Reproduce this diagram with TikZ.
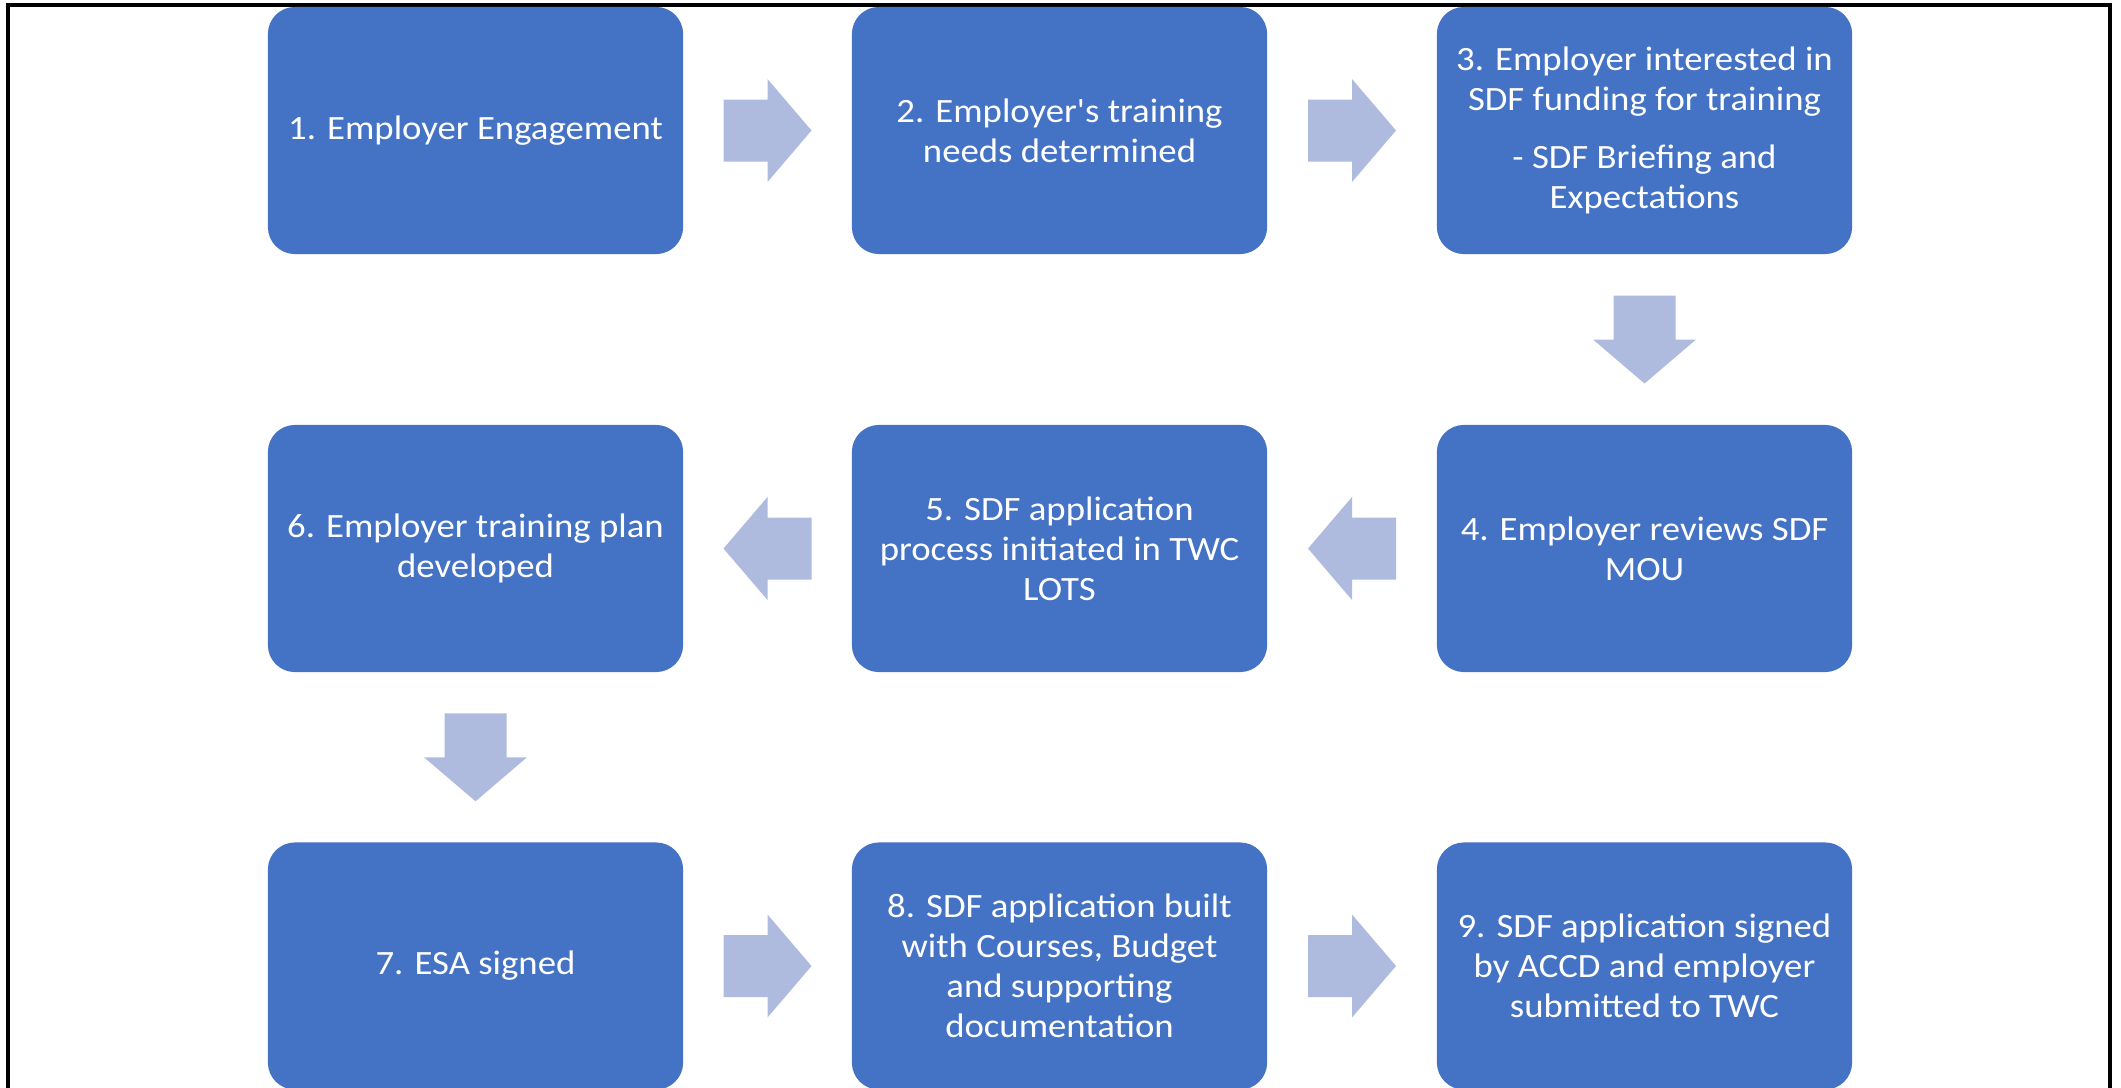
\documentclass[tikz,border=0pt]{standalone}
\usepackage{fontspec}
\newfontfamily\boxfont[FakeStretch=1.08,Ligatures=TeXOff]{Carlito}
\usetikzlibrary{calc}
\definecolor{boxblue}{HTML}{4472C4}
\definecolor{arrowblue}{RGB}{175,187,222}
\begin{document}
\begin{tikzpicture}[x=0.01cm,y=-0.01cm,
  stepbox/.style={fill=boxblue, rounded corners=0.27cm, minimum width=4.15cm,
    minimum height=2.47cm, inner sep=0pt, align=center, text=white,
    font=\boxfont\fontsize{9.68}{11.4}\selectfont},
  blockarr/.pic={\fill[arrowblue] (-44,-31) -- (0,-31) -- (0,-51.5) -- (44,0)
    -- (0,51.5) -- (0,31) -- (-44,31) -- cycle;}
]
\useasboundingbox (0,0) rectangle (2121,1087);
\draw[line width=0.04cm] (8,1100) -- (8,5) -- (2110,5) -- (2110,1100);

\node[stepbox] (b1) at (475.5,130.5) {1. Employer Engagement};
\node[stepbox] (b2) at (1059.5,130.5) {2. Employer's training\\needs determined};
\node[stepbox] (b3) at (1644.5,130.5) {3. Employer interested in\\SDF funding for training\\[5.2pt]- SDF Briefing and\\Expectations};
\node[stepbox] (b4) at (1644.5,548.5) {4. Employer reviews SDF\\MOU};
\node[stepbox] (b5) at (1059.5,548.5) {5. SDF application\\process initiated in TWC\\LOTS};
\node[stepbox] (b6) at (475.5,548.5) {6. Employer training plan\\developed};
\node[stepbox] (b7) at (475.5,966) {7. ESA signed};
\node[stepbox] (b8) at (1059.5,966) {8. SDF application built\\with Courses, Budget\\and supporting\\documentation};
\node[stepbox] (b9) at (1644.5,966) {9. SDF application signed\\by ACCD and employer\\submitted to TWC};

\pic at ($(b1.east)!0.5!(b2.west)$) {blockarr};
\pic at ($(b2.east)!0.5!(b3.west)$) {blockarr};
\pic[rotate=-90] at ($(b3.south)!0.5!(b4.north)$) {blockarr};
\pic[rotate=180] at ($(b4.west)!0.5!(b5.east)$) {blockarr};
\pic[rotate=180] at ($(b5.west)!0.5!(b6.east)$) {blockarr};
\pic[rotate=-90] at ($(b6.south)!0.5!(b7.north)$) {blockarr};
\pic at ($(b7.east)!0.5!(b8.west)$) {blockarr};
\pic at ($(b8.east)!0.5!(b9.west)$) {blockarr};
\end{tikzpicture}
\end{document}
